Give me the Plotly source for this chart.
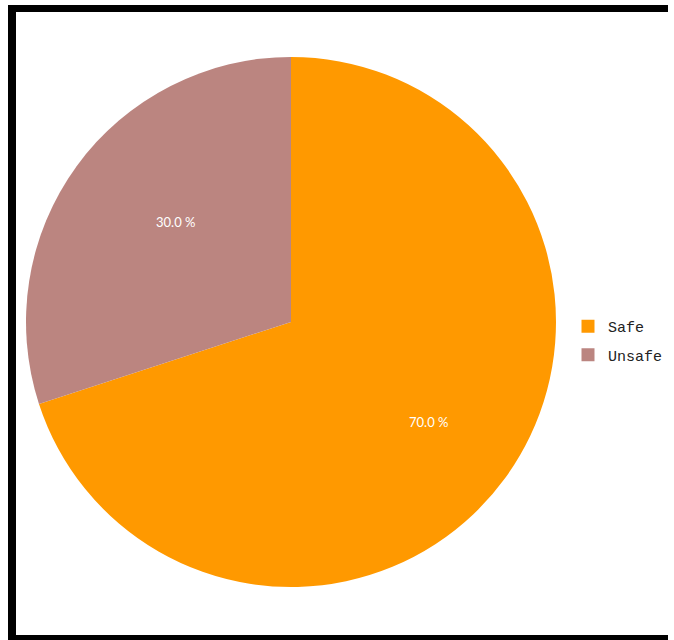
import math
import plotly.graph_objects as go

labels = ["Safe", "Unsafe"]
values = [70, 30]
colors = ["#ff9900", "#bb8580"]

total = sum(values)
pct_text = [f"{v / total * 100:.1f} %" for v in values]

W, H = 674, 640
# pie placement in pixels
cx, cy, R = 291, 322, 263
Rd = R + 2  # domain half-size (plotly trims the pie slightly inside its domain)

fig = go.Figure()
fig.add_trace(go.Pie(
    labels=labels,
    values=values,
    textinfo="none",
    marker=dict(colors=colors, line=dict(width=0)),
    sort=False,
    direction="clockwise",
    rotation=0,
    hoverinfo="label+percent",
    showlegend=False,
    domain=dict(x=[(cx - Rd) / W, (cx + Rd) / W], y=[(H - cy - Rd) / H, (H - cy + Rd) / H]),
))

# legend entries as separate groups so they can be spaced apart
for lab, col in zip(labels, colors):
    fig.add_trace(go.Scatter(
        x=[None], y=[None], mode="markers", name=lab, legendgroup=lab,
        marker=dict(symbol="square", size=13, color=col),
        showlegend=True, hoverinfo="skip",
    ))

# percentage labels placed at each slice's mid-angle (clockwise from 12 o'clock)
annotations = []
start = 0.0
for v, t in zip(values, pct_text):
    frac = v / total
    mid = (start + frac / 2) * 2 * math.pi
    start += frac
    r = 0.645 * R
    px = cx + r * math.sin(mid)
    py = cy - r * math.cos(mid)
    annotations.append(dict(
        x=px / W, y=1 - py / H, xref="paper", yref="paper",
        text=t, showarrow=False,
        font=dict(color="white", size=13, family="Lato"),
    ))

# heavy black frame around the chart (open on the right)
frame = [
    (8, 5, W - 6, 12),   # top
    (8, 5, 16, H),       # left
    (8, 635, W - 6, H),  # bottom
]
shapes = []
for x0, y0, x1, y1 in frame:
    shapes.append(dict(
        type="rect", xref="paper", yref="paper",
        x0=x0 / W, x1=x1 / W, y0=1 - y1 / H, y1=1 - y0 / H,
        fillcolor="black", line=dict(width=0), layer="above",
    ))

fig.update_layout(
    width=W,
    height=H,
    margin=dict(l=0, r=0, t=0, b=0),
    paper_bgcolor="white",
    plot_bgcolor="white",
    xaxis=dict(visible=False, range=[0, 1]),
    yaxis=dict(visible=False, range=[0, 1]),
    shapes=shapes,
    annotations=annotations,
    legend=dict(
        x=568 / W, y=1 - 310 / H, xanchor="left", yanchor="top",
        font=dict(family="Liberation Mono", size=15, color="#222"),
        tracegroupgap=6,
        bgcolor="rgba(0,0,0,0)",
    ),
)

fig.write_html("out.html")
